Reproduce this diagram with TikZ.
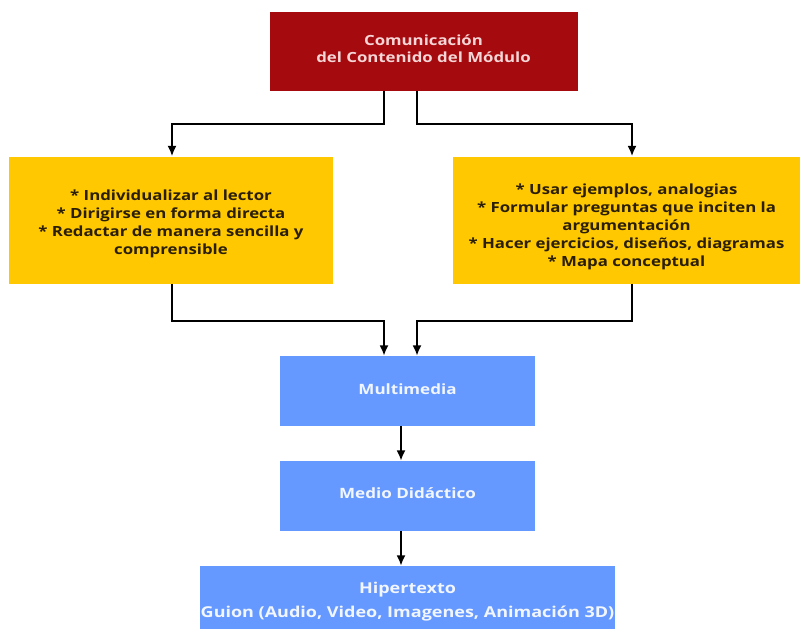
\documentclass[tikz,border=0pt]{standalone}
\usepackage{fontspec}
\setmainfont{Open Sans}[FakeStretch=1.2]
\usetikzlibrary{arrows.meta}
\definecolor{topred}{HTML}{A50A0F}
\definecolor{topfg}{HTML}{F6D6D6}
\definecolor{ybox}{HTML}{FFC800}
\definecolor{yfg}{HTML}{2A1E05}
\definecolor{bbox}{HTML}{6699FF}
\definecolor{bfg}{HTML}{F2F6FF}
\tikzset{
  boxbase/.style={inner sep=0pt, align=center},
  redbox/.style={boxbase, fill=topred},
  redtext/.style={align=center, text=topfg, font=\bfseries\fontsize{14}{17}\selectfont},
  yelbox/.style={boxbase, fill=ybox},
  yeltext/.style={align=center, text=yfg, font=\bfseries\fontsize{14}{17.9}\selectfont},
  bluebox/.style={boxbase, fill=bbox},
  bluetext/.style={align=center, text=bfg, font=\bfseries\fontsize{14.2}{24}\selectfont},
  bigbluetext/.style={align=center, text=bfg, font=\bfseries\fontsize{15}{24}\selectfont},
  arr/.style={line width=2pt, -{Latex[length=10.5pt,width=9pt]}}
}
\begin{document}
\begin{tikzpicture}[x=1pt,y=-1pt]
\useasboundingbox (0,0) rectangle (802,629);
\node[redbox, minimum width=308pt, minimum height=79pt,
  label={[redtext, yshift=2pt]center:Comunicación\\del Contenido del Módulo}] (top) at (423.5,51) {};
\node[yelbox, minimum width=324pt, minimum height=127pt,
  label={[yeltext, yshift=-4pt]center:* Individualizar al lector\\* Dirigirse en forma directa\\* Redactar de manera sencilla y\\comprensible}] (ly) at (171,220) {};
\node[yelbox, minimum width=347pt, minimum height=127pt,
  label={[yeltext, yshift=-7pt]center:* Usar ejemplos, analogias\\* Formular preguntas que inciten la\\argumentación\\* Hacer ejercicios, diseños, diagramas\\* Mapa conceptual}] (ry) at (626.5,220) {};
\node[bluebox, minimum width=255pt, minimum height=70pt,
  label={[bluetext, yshift=2pt]center:Multimedia}] (mm) at (407.5,391) {};
\node[bluebox, minimum width=255pt, minimum height=70pt,
  label={[bluetext, yshift=3pt]center:Medio Didáctico}] (md) at (407.5,496) {};
\node[bluebox, minimum width=415pt, minimum height=63pt,
  label={[bigbluetext, yshift=-4pt]center:Hipertexto\\Guion (Audio, Video, Imagenes, Animación 3D)}] (hx) at (407.5,597.5) {};
\draw[arr] ([xshift=-39.5pt]top.south) -- ++(0,33) -| ([xshift=1pt]ly.north);
\draw[arr] ([xshift=-6.5pt]top.south) -- ++(0,33) -| ([xshift=5.5pt]ry.north);
\draw[arr] ([xshift=1pt]ly.south) -- ++(0,37) -| ([xshift=-23.5pt]mm.north);
\draw[arr] ([xshift=5.5pt]ry.south) -- ++(0,37) -| ([xshift=9.5pt]mm.north);
\draw[arr] ([xshift=-6.5pt]mm.south) -- ([xshift=-6.5pt]md.north);
\draw[arr] ([xshift=-6.5pt]md.south) -- ([xshift=-6.5pt]hx.north);
\end{tikzpicture}
\end{document}
